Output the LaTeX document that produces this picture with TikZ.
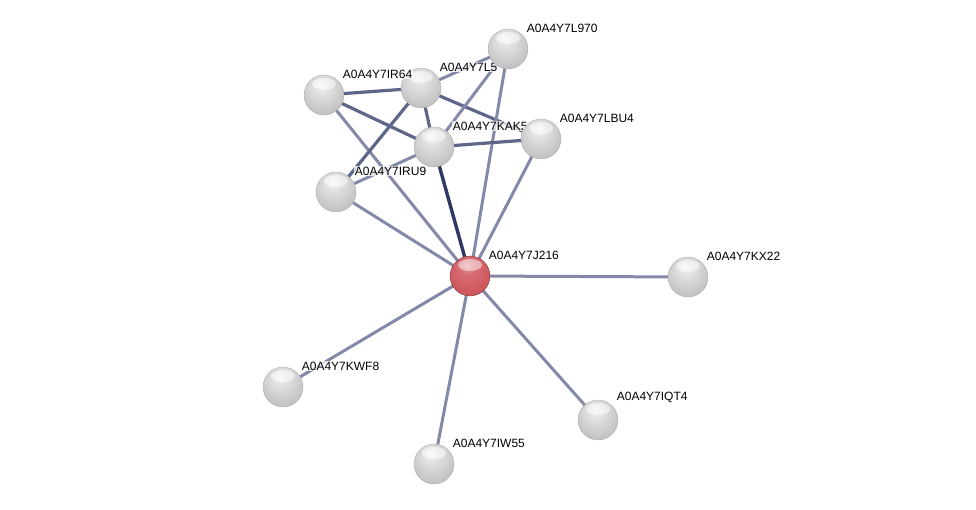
\documentclass[tikz,border=0pt]{standalone}
\usepackage{fontspec}
\setmainfont{Liberation Sans}
\usetikzlibrary{backgrounds}

\definecolor{edgelight}{HTML}{8489AA}
\definecolor{edgemid}{HTML}{5E6689}
\definecolor{edgedark}{HTML}{2E3862}
\definecolor{ballred}{HTML}{D0585F}
\pgfdeclareradialshading{greyball}{\pgfpoint{-4bp}{14bp}}{color(0bp)=(black!4); color(10bp)=(black!12); color(26bp)=(black!22); color(40bp)=(black!30); color(46bp)=(black!42); color(50bp)=(black!56)}
\pgfdeclareradialshading{redball}{\pgfpoint{-4bp}{14bp}}{color(0bp)=(ballred!60!white); color(10bp)=(ballred!88!white); color(26bp)=(ballred); color(40bp)=(ballred!92!black); color(46bp)=(ballred!78!black); color(50bp)=(ballred!62!black)}

\begin{document}
\begin{tikzpicture}[x=1pt,y=-1pt,
  prot/.style={circle,minimum size=40pt,inner sep=0pt,shading=greyball,draw=black!35,line width=0.3pt,
    path picture={\fill[white,fill opacity=0.5] ([yshift=-9pt]path picture bounding box.north) ellipse (12pt and 6pt);}},
  query/.style={prot,shading=redball,draw=ballred!55!black},
  lbl/.style={font=\fontsize{12}{14}\selectfont,fill=white,fill opacity=0.75,text opacity=1,inner sep=1pt,label distance=2pt,xshift=2pt},
  lo/.style={edgelight,line width=3pt},
  mid/.style={edgemid,line width=3.2pt},
  hi/.style={edgedark,line width=3.4pt}]
\useasboundingbox (0,0) rectangle (976,510);
% proteins, in drawing order
\node[prot,label={[lbl]north east:A0A4Y7L5}] (l5) at (421,88) {};
\node[prot,label={[lbl]north east:A0A4Y7IR64}] (ir64) at (324,95) {};
\node[prot,label={[lbl]north east:A0A4Y7L970}] (l970) at (508,49) {};
\node[prot,label={[lbl]north east:A0A4Y7KAK5}] (kak5) at (434,147) {};
\node[prot,label={[lbl]north east:A0A4Y7LBU4}] (lbu4) at (541,139) {};
\node[prot,label={[lbl]north east:A0A4Y7IRU9}] (iru9) at (336,192) {};
\node[query,label={[lbl]north east:A0A4Y7J216}] (j216) at (470,276) {};
\node[prot,label={[lbl]north east:A0A4Y7KX22}] (kx22) at (688,277) {};
\node[prot,label={[lbl]north east:A0A4Y7KWF8}] (kwf8) at (283,387) {};
\node[prot,label={[lbl]north east:A0A4Y7IQT4}] (iqt4) at (598,420) {};
\node[prot,label={[lbl]north east:A0A4Y7IW55}] (iw55) at (434,464) {};
% interactions
\begin{scope}[on background layer]
\draw[mid] (ir64.center)--(l5.center);
\draw[mid] (ir64.center)--(kak5.center);
\draw[lo] (ir64.center)--(j216.center);
\draw[lo] (l5.center)--(l970.center);
\draw[mid] (l5.center)--(kak5.center);
\draw[mid] (l5.center)--(lbu4.center);
\draw[mid] (l5.center)--(iru9.center);
\draw[lo] (l970.center)--(kak5.center);
\draw[lo] (l970.center)--(j216.center);
\draw[mid] (kak5.center)--(lbu4.center);
\draw[lo] (kak5.center)--(iru9.center);
\draw[hi] (kak5.center)--(j216.center);
\draw[lo] (lbu4.center)--(j216.center);
\draw[lo] (iru9.center)--(j216.center);
\draw[lo] (j216.center)--(kx22.center);
\draw[lo] (j216.center)--(kwf8.center);
\draw[lo] (j216.center)--(iqt4.center);
\draw[lo] (j216.center)--(iw55.center);
\end{scope}
\end{tikzpicture}
\end{document}
